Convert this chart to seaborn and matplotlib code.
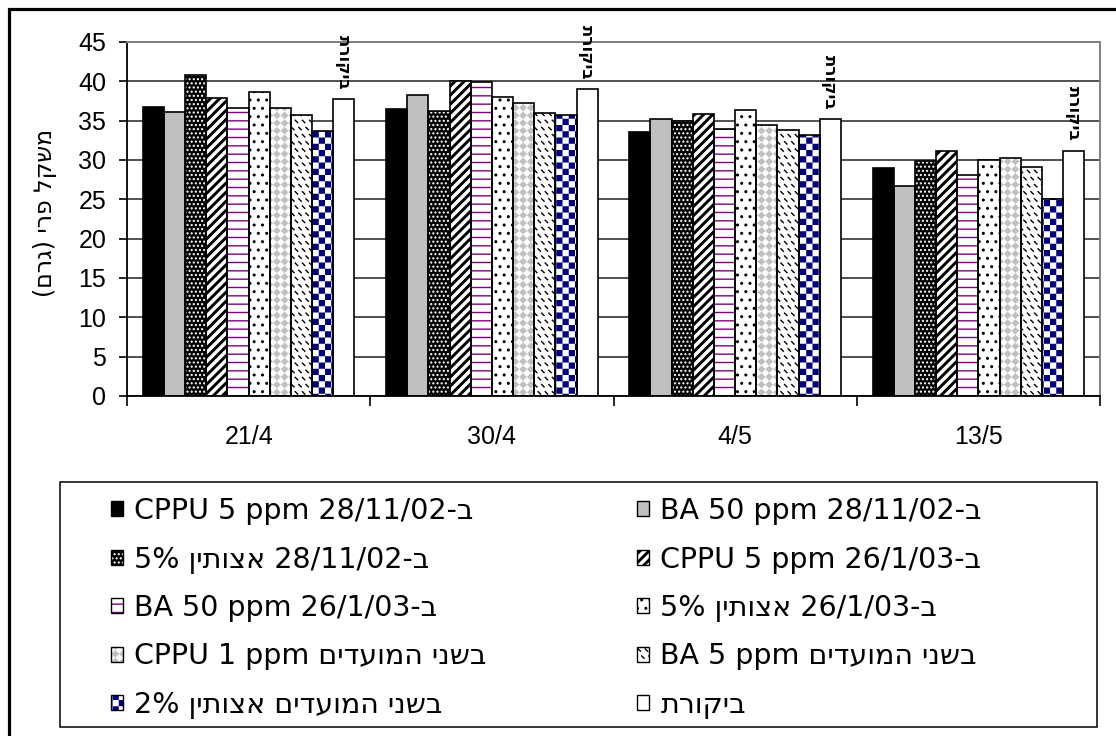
import numpy as np
import pandas as pd
import matplotlib
matplotlib.use("Agg")
import matplotlib.pyplot as plt
import matplotlib.hatch as mhatch
from matplotlib.path import Path
from matplotlib.patches import Rectangle, Patch
import seaborn as sns

# ---------------- data ----------------
dates = ["21/4", "30/4", "4/5", "13/5"]

names = [
    "CPPU 5 ppm 28/11/02-ב",
    "BA 50 ppm 28/11/02-ב",
    "5% ןיתוצא 28/11/02-ב",
    "CPPU 5 ppm 26/1/03-ב",
    "BA 50 ppm 26/1/03-ב",
    "5% ןיתוצא 26/1/03-ב",
    "CPPU 1 ppm םידעומה ינשב",
    "BA 5 ppm םידעומה ינשב",
    "2% ןיתוצא םידעומה ינשב",
    "תרוקיב",
]

cppu5_nov = [36.7, 36.5, 33.5, 29.0]
ba50_nov = [36.1, 38.3, 35.2, 26.7]
atsutin5_nov = [40.8, 36.2, 35.0, 29.9]
cppu5_jan = [37.9, 40.0, 35.8, 31.2]
ba50_jan = [36.6, 39.9, 33.9, 28.1]
atsutin5_jan = [38.7, 38.0, 36.3, 30.0]
cppu1_both = [36.6, 37.3, 34.5, 30.2]
ba5_both = [35.7, 36.0, 33.8, 29.1]
atsutin2_both = [33.7, 35.7, 33.2, 25.1]
control = [37.7, 39.0, 35.2, 31.2]

series_values = [cppu5_nov, ba50_nov, atsutin5_nov, cppu5_jan, ba50_jan,
                 atsutin5_jan, cppu1_both, ba5_both, atsutin2_both, control]

control_label = "תרוקיב"
y_label = "(םרג) ירפ לקשמ"

# ---------------- custom hatch tiles ----------------
MOVE, LINE, CLOSE = Path.MOVETO, Path.LINETO, Path.CLOSEPOLY


class _TileHatch(mhatch.HatchPatternBase):
    key = None

    def __init__(self, hatch, density):
        verts, codes = [], []
        if hatch and self.key in hatch:
            verts, codes = self.build()
        self._verts = np.asarray(verts, float).reshape(-1, 2)
        self._codes = np.asarray(codes, dtype=Path.code_type)
        self.num_vertices = len(self._verts)

    def set_vertices_and_codes(self, vertices, codes):
        vertices[:] = self._verts
        codes[:] = self._codes


class StripeHatch(_TileHatch):
    key = "/"

    def build(self):
        n, h = 11, 0.011
        v, c = [], []
        for k in range(-n - 1, n + 2):
            o = k / n
            v += [(-0.2, -0.2 + o - h), (1.2, 1.2 + o - h), (1.2, 1.2 + o + h),
                  (-0.2, -0.2 + o + h), (-0.2, -0.2 + o - h)]
            c += [MOVE, LINE, LINE, LINE, CLOSE]
        return v, c


class CheckerHatch(_TileHatch):
    key = "*"

    def build(self):
        n, e = 16, 0.0069
        s = 1.0 / n
        v, c = [], []
        for i in range(n):
            for j in range(n):
                if (i + j) % 2 == 0:
                    x0, y0, x1, y1 = i * s + e, j * s + e, (i + 1) * s - e, (j + 1) * s - e
                    v += [(x0, y0), (x1, y0), (x1, y1), (x0, y1), (x0, y0)]
                    c += [MOVE, LINE, LINE, LINE, CLOSE]
        return v, c


class DiamondHatch(_TileHatch):
    key = "O"

    def build(self):
        n = 13
        d = 1.0 / n
        hd = d / 2 - 0.0098
        v, c = [], []
        for i in range(n + 1):
            for j in range(n + 1):
                cx, cy = i * d, j * d
                v += [(cx - hd, cy), (cx, cy - hd), (cx + hd, cy), (cx, cy + hd), (cx - hd, cy)]
                c += [MOVE, LINE, LINE, LINE, CLOSE]
        return v, c


class DashHatch(_TileHatch):
    key = "|"

    def build(self):
        n, a = 14, 0.012
        d = 1.0 / n
        v, c = [], []
        for j in range(n + 1):
            cy = j * d
            if j % 2 == 0:
                xs = [i * d for i in range(n + 1)]
            else:
                xs = [(i + 0.5) * d for i in range(n)]
            for cx in xs:
                v += [(cx - a, cy + a), (cx + a, cy - a)]
                c += [MOVE, LINE]
        return v, c


_repl = {mhatch.NorthEastHatch: StripeHatch, mhatch.VerticalHatch: DashHatch,
         mhatch.LargeCircles: DiamondHatch, mhatch.Stars: CheckerHatch}
mhatch._hatch_types = [_repl.get(t, t) for t in mhatch._hatch_types]

# (face colour, hatch colour, hatch)
styles = [
    ("#000000", "#000000", None),
    ("#C0C0C0", "#C0C0C0", None),
    ("#000000", "#FFFFFF", "...."),
    ("#FFFFFF", "#000000", "/"),
    ("#FFFFFF", "#800080", "--"),
    ("#FFFFFF", "#000000", ".."),
    ("#FFFFFF", "#C0C0C0", "O"),
    ("#FFFFFF", "#000000", "|"),
    ("#FFFFFF", "#000080", "*"),
    ("#FFFFFF", "#FFFFFF", None),
]

# ---------------- style ----------------
sns.set_style("white")
plt.rcParams["font.family"] = ["Liberation Sans", "DejaVu Sans"]
plt.rcParams["hatch.linewidth"] = 1.0
for k in ["text.color", "axes.labelcolor", "xtick.color", "ytick.color"]:
    plt.rcParams[k] = "black"

W, H = 1116, 736
fig = plt.figure(figsize=(W / 100, H / 100), dpi=100)
fig.patch.set_facecolor("white")
ax = fig.add_axes([127 / W, 1 - 396 / H, (1100 - 127) / W, (396 - 42) / H])

rows = [(d, n, v) for n, vals in zip(names, series_values) for d, v in zip(dates, vals)]
df = pd.DataFrame(rows, columns=["date", "treatment", "weight"])

sns.barplot(data=df, x="date", y="weight", hue="treatment", order=dates,
            hue_order=names, palette=[s[0] for s in styles], saturation=1,
            width=0.87, errorbar=None, legend=False, ax=ax)

for cont, (fc, hc, hatch) in zip(ax.containers, styles):
    for p in cont.patches:
        p.set_facecolor(fc)
        p.set_edgecolor(hc)
        p.set_hatch(hatch)
        p.set_linewidth(0)
        ax.add_patch(Rectangle((p.get_x(), p.get_y()), p.get_width(), p.get_height(),
                               fill=False, edgecolor="black", linewidth=1.2,
                               zorder=p.get_zorder() + 0.1))

# rotated control labels above the control bars
for p in ax.containers[-1].patches:
    ax.annotate(control_label, xy=(p.get_x() + p.get_width() / 2, p.get_height()),
                xytext=(0, 7), textcoords="offset points", rotation=270,
                ha="center", va="bottom", fontsize=12, fontweight="bold",
                family="DejaVu Sans", annotation_clip=False)

# axes
ax.set_ylim(0, 45)
ax.set_yticks(range(0, 46, 5))
ax.set_xlim(-0.5, 3.5)
ax.set_xticks([-0.5, 0.5, 1.5, 2.5, 3.5])
ax.set_xticklabels([""] * 5)
ax.set_xticks(range(len(dates)), minor=True)
ax.set_xticklabels(dates, minor=True)
ax.tick_params(axis="x", which="major", bottom=True, length=7, width=1.2, direction="out")
ax.tick_params(axis="x", which="minor", bottom=True, length=0, pad=21, labelsize=18)
ax.tick_params(axis="y", left=True, length=6, width=1.2, pad=9, labelsize=18)
ax.set_xlabel("")
ax.set_ylabel(y_label, fontsize=17, family=["DejaVu Sans"], va="center")
ax.yaxis.set_label_coords((45 - 127) / (1100 - 127), (396 - 213) / (396 - 42))

ax.set_axisbelow(True)
ax.yaxis.grid(True, color="#202020", linewidth=1.1)
ax.xaxis.grid(False)
for side in ["left", "bottom"]:
    ax.spines[side].set_color("black")
    ax.spines[side].set_linewidth(1.3)
for side in ["top", "right"]:
    ax.spines[side].set_color("#808080")
    ax.spines[side].set_linewidth(1.4)
    ax.spines[side].set_visible(True)

# legend: two columns, row-major order as in the original
handles = [(Patch(facecolor=fc, edgecolor=hc, hatch=h, linewidth=0),
            Patch(facecolor="none", edgecolor="black", linewidth=1.0))
           for fc, hc, h in styles]
leg_kw = dict(loc="upper left", bbox_transform=fig.transFigure, frameon=False,
              prop={"family": "DejaVu Sans", "size": 20.5}, handlelength=0.42,
              handleheight=0.42, handletextpad=0.4, labelspacing=0.72,
              borderpad=0, borderaxespad=0)
leg1 = ax.legend(handles[0::2], names[0::2], bbox_to_anchor=(111 / W, 1 - 497 / H), **leg_kw)
ax.add_artist(leg1)
leg2 = ax.legend(handles[1::2], names[1::2], bbox_to_anchor=(637 / W, 1 - 497 / H), **leg_kw)

# legend frame and chart frame
fig.add_artist(Rectangle((60 / W, 1 - 727 / H), (1097 - 60) / W, (727 - 482) / H,
                         transform=fig.transFigure, fill=False, edgecolor="black",
                         linewidth=1.1))
fig.add_artist(Rectangle((8.5 / W, -0.1), 1.5, 1.1 - 8.5 / H, transform=fig.transFigure,
                         fill=False, edgecolor="black", linewidth=2.3))

fig.savefig("out.png", dpi=100)
